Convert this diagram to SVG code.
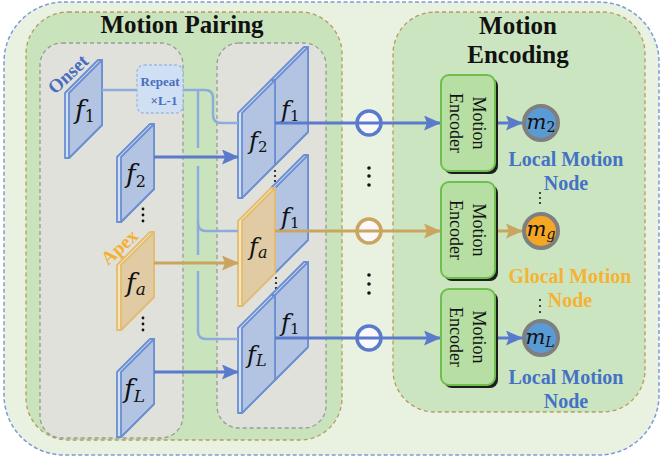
<svg xmlns="http://www.w3.org/2000/svg" width="662" height="460" viewBox="0 0 662 460">
<defs>
<style>
.title{font-family:"Liberation Serif",serif;font-weight:bold;font-size:25px;fill:#111;text-anchor:middle}
.panel{fill:#dfe1da;stroke:#9a9a9a;stroke-width:1.3;stroke-dasharray:4 3}
.slabB{fill:#d3dff3;stroke:#6b8fd2;stroke-width:1.8;stroke-linejoin:round}
.faceB{fill:#b2c4e2;stroke:#6b8fd2;stroke-width:1.8;stroke-linejoin:round}
.slabO{fill:#f7e5b9;stroke:#e2bc70;stroke-width:1.8;stroke-linejoin:round}
.faceO{fill:#e1cba5;stroke:#e2bc70;stroke-width:1.8;stroke-linejoin:round}
.math{font-family:"DejaVu Serif","Liberation Serif",serif;font-style:italic;fill:#111}
.sub{font-style:normal}
.subi{font-style:italic}
.light{fill:none;stroke:#8eaade;stroke-width:2.5}
.blue{fill:none;stroke:#5a7bcc;stroke-width:3}
.orange{fill:none;stroke:#caa560;stroke-width:3}
.ring{stroke-width:3.5;fill:#fbf9fc}
.enc{fill:#b7dea3;stroke:#6fbf4c;stroke-width:2}
.shadow{fill:#1e1e1e}
.enctxt{font-family:"Liberation Serif",serif;font-size:18px;fill:#111;text-anchor:middle}
.node{stroke:#7f7f7f;stroke-width:4}
.lbl{font-family:"Liberation Serif",serif;font-weight:bold;font-size:20px;text-anchor:middle}
.dot{fill:#111}
</style>
<marker id="ab" markerUnits="userSpaceOnUse" markerWidth="17" markerHeight="15" refX="16" refY="7.5" orient="auto">
<path d="M0,0 L17,7.5 L0,15 L3,7.5 z" fill="#5a7bcc"/>
</marker>
<marker id="ao" markerUnits="userSpaceOnUse" markerWidth="17" markerHeight="15" refX="16" refY="7.5" orient="auto">
<path d="M0,0 L17,7.5 L0,15 L3,7.5 z" fill="#caa560"/>
</marker>
</defs>

<rect width="662" height="460" fill="#ffffff"/>
<rect x="4" y="2" width="655" height="453" rx="60" fill="#e9f2e1" stroke="#7f9bd6" stroke-width="1.5" stroke-dasharray="4 2.5"/>

<g id="motion-pairing">
<rect x="26" y="12" width="316" height="428" rx="42" fill="#c9e4bc" stroke="#b89a5c" stroke-width="1.3" stroke-dasharray="4 3"/>
<text class="title" x="182" y="33">Motion Pairing</text>
<rect class="panel" x="40" y="43" width="143" height="395" rx="22"/>
<rect class="panel" x="217" y="43" width="109" height="385" rx="22"/>
</g>

<g id="motion-encoding">
<rect x="393" y="12" width="252" height="400" rx="42" fill="#cce5c1" stroke="#b89a5c" stroke-width="1.3" stroke-dasharray="4 3"/>
<text class="title" x="518" y="34">Motion</text>
<text class="title" x="518" y="63">Encoding</text>
</g>

<g id="frame-onset">
<polygon class="slabB" points="65,93 98,60 102,60 102,125 69,158 65,158"/>
<polygon class="faceB" points="69,93 102,60 102,125 69,158"/>
<text class="math" x="75" y="119" font-size="26">f<tspan class="sub" font-size="16" dy="3">1</tspan></text>
<text x="55" y="95" transform="rotate(-43 55 95)" font-family="Liberation Serif,serif" font-weight="bold" font-size="19" fill="#4a6cc0">Onset</text>
</g>

<g id="frame-f2">
<polygon class="slabB" points="117,157 150,124 154,124 154,189 121,222 117,222"/>
<polygon class="faceB" points="121,157 154,124 154,189 121,222"/>
<text class="math" x="126" y="183" font-size="26">f<tspan class="sub" font-size="16" dy="4">2</tspan></text>
</g>
<g id="dots-left-1"><circle class="dot" cx="143" cy="209" r="1.4"/><circle class="dot" cx="143" cy="215" r="1.4"/><circle class="dot" cx="143" cy="221" r="1.4"/></g>

<g id="frame-fa">
<polygon class="slabO" points="117,265 150,232 154,232 154,297 121,330 117,330"/>
<polygon class="faceO" points="121,265 154,232 154,297 121,330"/>
<text class="math" x="126" y="292" font-size="26">f<tspan class="subi" font-size="17" dy="3">a</tspan></text>
<text x="108" y="266" transform="rotate(-42 108 266)" font-family="Liberation Serif,serif" font-weight="bold" font-size="19" fill="#f5b030">Apex</text>
</g>
<g id="dots-left-2"><circle class="dot" cx="143" cy="318" r="1.4"/><circle class="dot" cx="143" cy="324" r="1.4"/><circle class="dot" cx="143" cy="330" r="1.4"/></g>

<g id="frame-fL">
<polygon class="slabB" points="117,372 150,339 154,339 154,404 121,437 117,437"/>
<polygon class="faceB" points="121,372 154,339 154,404 121,437"/>
<text class="math" x="124" y="398" font-size="26">f<tspan class="subi" font-size="17" dy="4">L</tspan></text>
</g>

<g id="stack-1">
<polygon class="slabB" points="271,80 304,47 308,47 308,132 275,165 271,165"/>
<polygon class="faceB" points="275,80 308,47 308,132 275,165"/>
<polygon class="slabB" points="238,113 271,80 275,80 275,165 242,198 238,198"/>
<polygon class="faceB" points="242,113 275,80 275,165 242,198"/>
<text class="math" x="281" y="118" font-size="24">f<tspan class="sub" font-size="15" dy="3">1</tspan></text>
<text class="math" x="249" y="149" font-size="24">f<tspan class="sub" font-size="15" dy="3">2</tspan></text>
</g>
<g id="dots-stack-1"><circle class="dot" cx="275" cy="171" r="1.1"/><circle class="dot" cx="275" cy="176" r="1.1"/><circle class="dot" cx="275" cy="181" r="1.1"/></g>

<g id="stack-2">
<polygon class="slabB" points="271,188 304,155 308,155 308,240 275,273 271,273"/>
<polygon class="faceB" points="275,188 308,155 308,240 275,273"/>
<polygon class="slabO" points="238,221 271,188 275,188 275,273 242,306 238,306"/>
<polygon class="faceO" points="242,221 275,188 275,273 242,306"/>
<text class="math" x="281" y="225" font-size="24">f<tspan class="sub" font-size="15" dy="3">1</tspan></text>
<text class="math" x="249" y="255" font-size="24">f<tspan class="subi" font-size="16" dy="3">a</tspan></text>
</g>
<g id="dots-stack-2"><circle class="dot" cx="276" cy="278" r="1.1"/><circle class="dot" cx="276" cy="283" r="1.1"/><circle class="dot" cx="276" cy="288" r="1.1"/></g>

<g id="stack-3">
<polygon class="slabB" points="271,295 304,262 308,262 308,347 275,380 271,380"/>
<polygon class="faceB" points="275,295 308,262 308,347 275,380"/>
<polygon class="slabB" points="238,328 271,295 275,295 275,380 242,413 238,413"/>
<polygon class="faceB" points="242,328 275,295 275,380 242,413"/>
<text class="math" x="281" y="331" font-size="24">f<tspan class="sub" font-size="15" dy="3">1</tspan></text>
<text class="math" x="247" y="363" font-size="24">f<tspan class="subi" font-size="16" dy="3">L</tspan></text>
</g>

<g id="op-1"><circle class="ring" cx="369" cy="123" r="12" stroke="#5a7bcc"/></g>
<g id="op-2"><circle class="ring" cx="369" cy="231" r="12" stroke="#caa560"/></g>
<g id="op-3"><circle class="ring" cx="369" cy="338" r="12" stroke="#5a7bcc"/></g>
<g id="dots-mid"><circle class="dot" cx="369" cy="168" r="1.8"/><circle class="dot" cx="369" cy="176" r="1.8"/><circle class="dot" cx="369" cy="185" r="1.8"/><circle class="dot" cx="369" cy="275" r="1.8"/><circle class="dot" cx="369" cy="284" r="1.8"/><circle class="dot" cx="369" cy="293" r="1.8"/></g>

<g id="connectors">
<path class="light" d="M102,90 H205 Q213,90 213,98 V115 Q213,123 221,123 H238"/>
<path class="light" d="M198,90 V148 M198,166 V255 M198,271 V331 Q198,339 206,339 H238"/>
<path class="light" d="M198,223 Q198,231 206,231 H238"/>
<path class="blue" d="M154,157 H238" marker-end="url(#ab)"/>
<path class="orange" d="M154,263 H238" marker-end="url(#ao)"/>
<path class="blue" d="M154,372 H238" marker-end="url(#ab)"/>
<path class="blue" d="M275,123 H440" marker-end="url(#ab)"/>
<path class="orange" d="M275,231 H440" marker-end="url(#ao)"/>
<path class="blue" d="M275,338 H440" marker-end="url(#ab)"/>
<path class="blue" d="M495,123 H522" marker-end="url(#ab)"/>
<path class="orange" d="M495,231 H522" marker-end="url(#ao)"/>
<path class="blue" d="M495,338 H522" marker-end="url(#ab)"/>
</g>

<g id="repeat">
<rect x="137" y="65" width="46" height="48" rx="7" fill="#cfe0f4" stroke="#9db9e3" stroke-width="1.3" stroke-dasharray="3 2"/>
<text x="160" y="86" text-anchor="middle" font-family="Liberation Serif,serif" font-weight="bold" font-size="13" fill="#4a6cc0">Repeat</text>
<text x="164" y="105" text-anchor="middle" font-family="Liberation Serif,serif" font-weight="bold" font-size="13" fill="#4a6cc0">×L-1</text>
</g>

<g id="encoder-1">
<rect class="shadow" x="444" y="78" width="54" height="96" rx="8"/>
<rect class="enc" x="441" y="75" width="54" height="96" rx="8"/>
<text class="enctxt" transform="translate(473,123) rotate(90)">Motion</text>
<text class="enctxt" transform="translate(450,123) rotate(90)">Encoder</text>
</g>
<g id="encoder-2">
<rect class="shadow" x="444" y="185" width="54" height="96" rx="8"/>
<rect class="enc" x="441" y="182" width="54" height="96" rx="8"/>
<text class="enctxt" transform="translate(473,230) rotate(90)">Motion</text>
<text class="enctxt" transform="translate(450,230) rotate(90)">Encoder</text>
</g>
<g id="encoder-3">
<rect class="shadow" x="444" y="292" width="54" height="96" rx="8"/>
<rect class="enc" x="441" y="289" width="54" height="96" rx="8"/>
<text class="enctxt" transform="translate(473,337) rotate(90)">Motion</text>
<text class="enctxt" transform="translate(450,337) rotate(90)">Encoder</text>
</g>

<g id="node-m2">
<circle class="node" cx="541" cy="123" r="17" fill="#5b9bd5"/>
<text class="math" x="541" y="129" font-size="21" text-anchor="middle">m<tspan class="sub" font-size="14" dy="3">2</tspan></text>
<text class="lbl" x="566" y="166" fill="#4472c4">Local Motion</text>
<text class="lbl" x="566" y="190" fill="#4472c4">Node</text>
</g>
<g id="dots-node-1"><circle class="dot" cx="540" cy="193" r="1"/><circle class="dot" cx="540" cy="198" r="1"/><circle class="dot" cx="540" cy="203" r="1"/></g>
<g id="node-mg">
<circle class="node" cx="541" cy="231" r="17" fill="#f5a623"/>
<text class="math" x="541" y="236" font-size="21" text-anchor="middle">m<tspan class="subi" font-size="14" dy="3">g</tspan></text>
<text class="lbl" x="570" y="283" fill="#f5b335">Glocal Motion</text>
<text class="lbl" x="570" y="307" fill="#f5b335">Node</text>
</g>
<g id="dots-node-2"><circle class="dot" cx="540" cy="300" r="1"/><circle class="dot" cx="540" cy="306" r="1"/><circle class="dot" cx="540" cy="312" r="1"/></g>
<g id="node-mL">
<circle class="node" cx="541" cy="338" r="17" fill="#5b9bd5"/>
<text class="math" x="540" y="344" font-size="21" text-anchor="middle">m<tspan class="subi" font-size="14" dy="3">L</tspan></text>
<text class="lbl" x="566" y="384" fill="#4472c4">Local Motion</text>
<text class="lbl" x="566" y="408" fill="#4472c4">Node</text>
</g>
</svg>
